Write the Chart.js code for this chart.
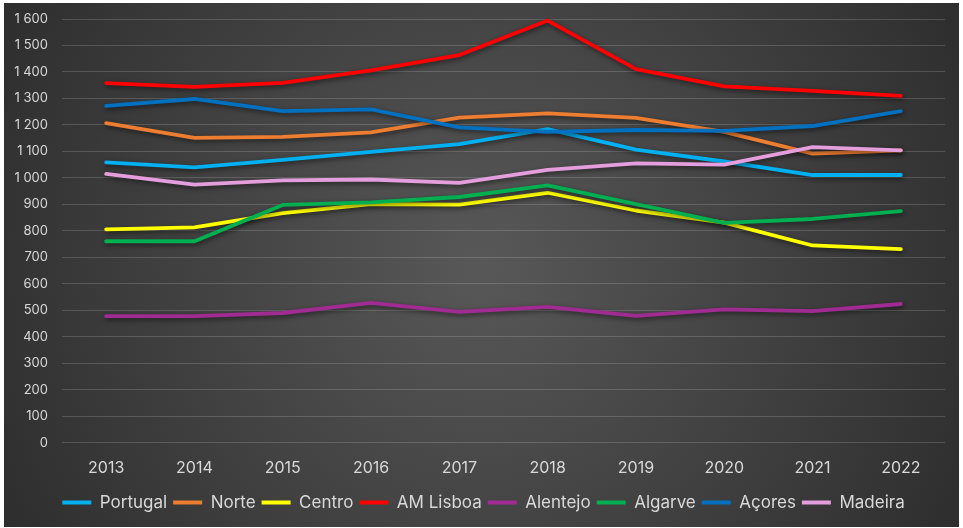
<!DOCTYPE html>
<html>
<head>
<meta charset="utf-8">
<script src="https://cdn.jsdelivr.net/npm/chart.js@4.4.1/dist/chart.umd.min.js"></script>
<style>
html,body{margin:0;padding:0;background:#fff;width:963px;height:528px;overflow:hidden;}
#wrap{position:absolute;left:4px;top:3px;width:955px;height:524px;}
</style>
</head>
<body>
<div id="wrap"><canvas id="c"></canvas></div>
<script>
const years = ['2013','2014','2015','2016','2017','2018','2019','2020','2021','2022'];
const portugal = [1059,1040,1068,1098,1128,1184,1107,1062,1011,1011];
const norte    = [1207,1151,1155,1172,1228,1244,1227,1174,1092,1104];
const centro   = [806,813,867,901,899,944,877,831,745,731];
const amLisboa = [1358,1344,1359,1406,1464,1594,1411,1346,1329,1310];
const alentejo = [478,478,490,528,494,513,479,504,497,524];
const algarve  = [761,761,898,908,928,972,901,830,845,875];
const acores   = [1272,1298,1252,1259,1191,1174,1181,1178,1196,1252];
const madeira  = [1015,975,991,994,981,1030,1055,1050,1116,1104];
const yTicks = [0,100,200,300,400,500,600,700,800,900,1000,1100,1200,1300,1400,1500,1600];

const series = [
  ['Portugal', portugal, '#00B0F0'],
  ['Norte', norte, '#ED7D31'],
  ['Centro', centro, '#FFFF00'],
  ['AM Lisboa', amLisboa, '#FF0000'],
  ['Alentejo', alentejo, '#A02B93'],
  ['Algarve', algarve, '#00B050'],
  ['Açores', acores, '#0070C0'],
  ['Madeira', madeira, '#E59EDD']
];

const bgPlugin = {
  id: 'bg',
  beforeDraw(chart) {
    const {ctx, width, height} = chart;
    const g = ctx.createRadialGradient(width*0.5, height*0.5, 0, width*0.5, height*0.5, width*0.62);
    g.addColorStop(0, '#585858');
    g.addColorStop(1, '#2a2a2a');
    ctx.save();
    ctx.fillStyle = g;
    ctx.fillRect(0, 0, width, height);
    ctx.restore();
  }
};
const shadowPlugin = {
  id: 'shadow',
  beforeDatasetsDraw(chart) {
    const ctx = chart.ctx;
    ctx.save();
    ctx.shadowColor = 'rgba(0,0,0,0.55)';
    ctx.shadowBlur = 5;
    ctx.shadowOffsetX = 1;
    ctx.shadowOffsetY = 2;
  },
  afterDatasetsDraw(chart) {
    chart.ctx.restore();
  }
};
const legendShift = {
  id: 'legendShift',
  afterLayout(chart) {
    if (chart.legend) { chart.legend.left += 9; chart.legend.right += 9; }
  }
};

const fmt = v => {
  const s = String(v);
  return s.length > 3 ? s.slice(0, s.length-3) + ' ' + s.slice(-3) : s;
};

new Chart(document.getElementById('c'), {
  type: 'line',
  data: {
    labels: years,
    datasets: series.map((s, i) => ({
      label: s[0],
      data: s[1],
      borderColor: s[2],
      backgroundColor: s[2],
      borderWidth: 3.8,
      pointRadius: 0,
      tension: 0,
      fill: false,
      borderCapStyle: 'round',
      borderJoinStyle: 'round',
      order: series.length - i
    }))
  },
  options: {
    responsive: true,
    maintainAspectRatio: false,
    animation: false,
    layout: { padding: { top: 16, right: 14, bottom: 6, left: 0 } },
    plugins: {
      tooltip: { enabled: false },
      legend: {
        position: 'bottom',
        labels: {
          color: '#d9d9d9',
          font: { family: 'Inter', size: 17 },
          boxWidth: 29,
          boxHeight: 4,
          padding: 6,
          sort: (a, b) => a.datasetIndex - b.datasetIndex,
          generateLabels: chart => Chart.defaults.plugins.legend.labels.generateLabels(chart)
            .map(l => Object.assign(l, { lineWidth: 0, fillStyle: l.strokeStyle }))
        }
      }
    },
    scales: {
      x: {
        offset: true,
        grid: { display: false },
        border: { display: false },
        afterFit: s => { s.height += 2; },
        ticks: { color: '#d9d9d9', font: { family: 'Inter', size: 16 }, padding: 8, maxRotation: 0 }
      },
      y: {
        min: 0,
        max: 1600,
        afterFit: s => { s.width = 58; s.paddingTop = 0; },
        afterBuildTicks: s => { s.ticks = yTicks.map(v => ({ value: v })); },
        grid: { color: 'rgba(255,255,255,0.16)', lineWidth: 1, drawTicks: false },
        border: { display: false },
        ticks: { color: '#d9d9d9', font: { family: 'Inter', size: 13 }, padding: 14, callback: v => fmt(v) }
      }
    }
  },
  plugins: [bgPlugin, shadowPlugin, legendShift]
});
</script>
</body>
</html>
